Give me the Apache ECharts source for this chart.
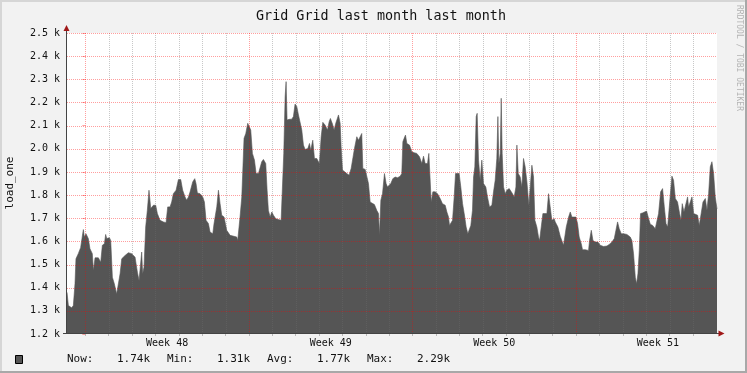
<!DOCTYPE html>
<html><head><meta charset="utf-8">
<script src="https://cdn.jsdelivr.net/npm/echarts@6/dist/echarts.min.js"></script>
<style>html,body{margin:0;padding:0;background:#f2f2f2}#c{width:747px;height:373px}</style>
</head><body><div id="c"></div>
<script>
// time in hours relative to the start of Week 48
const hours = [-18.8,-17.4,-14.0,-12.3,-10.6,-9.6,-7.2,-4.8,-2.7,-2.0,-1.0,0.7,3.1,4.8,7.2,8.3,10.0,13.4,15.8,17.5,19.6,20.9,22.0,24.7,26.1,27.8,29.8,32.2,33.9,35.7,37.4,40.8,44.2,47.6,51.1,53.5,55.2,56.2,57.9,58.9,60.3,62.0,63.7,65.4,67.2,69.9,72.3,74.0,76.7,80.2,82.9,84.6,87.0,88.7,90.4,93.2,95.6,98.0,100.0,102.4,104.1,105.9,107.6,110.3,112.4,113.7,115.1,117.8,120.6,122.3,124.0,126.4,128.1,130.9,132.2,135.0,136.7,138.4,140.1,142.5,145.2,148.7,
155.5,156.5,158.9,160.7,163.0,164.8,166.8,168.5,169.9,171.6,173.7,175.4,177.8,179.5,181.2,182.9,185.3,186.7,188.0,189.8,191.5,193.2,195.6,198.3,201.1,202.4,203.8,205.2,206.2,207.2,209.3,212.0,213.7,215.4,217.2,218.9,220.6,222.3,224.0,225.7,228.5,230.2,231.5,233.6,235.3,237.7,240.4,242.2,243.9,246.3,248.7,250.4,251.7,253.8,255.5,257.2,260.0,261.7,262.7,264.1,266.1,268.5,270.9,273.0,274.7,276.4,278.8,280.5,282.2,283.9,285.0,287.4,289.4,290.8,292.5,294.2,296.9,299.3,301.1,302.1,303.5,305.2,307.2,308.9,310.3,312.0,313.7,315.8,
318.2,320.6,323.3,325.0,326.1,327.4,328.8,330.2,332.9,335.3,337.7,340.4,343.2,345.6,347.3,349.0,351.4,352.8,353.8,355.2,356.9,359.3,361.7,364.4,366.8,369.6,371.3,373.0,374.0,375.4,377.1,378.8,380.2,382.2,383.9,385.6,387.4,389.1,391.1,392.8,394.2,395.9,397.6,398.7,400.0,401.4,402.4,403.8,405.5,407.2,408.9,411.3,413.0,415.1,417.5,419.2,420.9,422.6,423.7,424.7,426.1,427.1,428.1,429.5,431.2,432.9,435.3,437.0,438.7,440.4,442.2,443.2,444.6,446.6,448.3,450.0,451.7,453.5,455.5,456.9,458.6,460.3,461.7,463.7,465.4,466.5,468.2,469.9,471.9,474.0,475.7,477.4,479.1,481.5,
482.6,485.3,487.7,489.4,491.1,492.1,493.9,496.3,498.0,499.7,501.4,503.8,505.5,507.2,509.3,510.6,513.4,516.8,517.8,519.6,521.3,523.7,526.4,528.8,532.2,535.7,538.0,540.8,543.2,544.9,546.6,548.3,550.4,552.8,556.2,559.6,561.3,563.0,564.8,566.1,567.5,568.9,570.2,572.3,574.3,576.4,578.5,580.2,582.6,585.3,587.0,588.7,590.8,592.8,594.6,596.3,598.0,599.7,600.7,602.4,604.1,605.9,608.2,610.3,611.7,613.0,614.8,616.8,618.5,619.5,621.3,623.0,624.7,626.4,628.8,630.5,632.2,634.3,636.7,638.4,640.1,641.8,643.5,645.2,646.9,648.7];
const load = [1380,1323,1313,1323,1417,1525,1547,1573,1633,1651,1619,1633,1612,1568,1547,1474,1529,1529,1510,1583,1590,1630,1612,1616,1604,1445,1417,1373,1370,1460,1525,1539,1551,1547,1532,1467,1431,1431,1554,1460,1489,1662,1734,1821,1742,1756,1756,1720,1691,1684,1681,1749,1749,1770,1806,1821,1867,1867,1821,1792,1778,1792,1814,1857,1871,1850,1809,1806,1792,1770,1691,1677,1640,1633,1677,1749,1821,1763,1713,1705,1648,1626,
1619,1604,1705,1792,2045,2066,2110,2117,2081,1980,1951,1893,1893,1886,1944,1954,1936,1821,1734,1705,1727,1713,1698,1694,1691,1698,1980,2225,2290,2124,2127,2128,2139,2193,2182,2146,2139,2081,2016,1997,2001,2023,1994,2037,1958,1958,1936,2052,2114,2102,2081,2117,2131,2107,2081,2110,2146,2110,2009,1908,1911,1893,1886,1915,1922,2001,2052,2037,2030,2066,1915,1911,1915,1850,1770,1763,1759,1734,1720,1626,1778,1806,1893,1850,1835,1842,1850,1871,
1878,1875,1881,1893,2030,2045,2059,2023,2016,1987,1983,1980,1965,1936,1968,1936,1936,1980,1893,1770,1814,1814,1806,1785,1763,1756,1727,1705,1669,1677,1691,1792,1893,1900,1893,1835,1763,1720,1662,1633,1633,1669,1734,1878,1922,2139,2153,1951,1864,1951,1850,1835,1792,1749,1756,1814,1864,1958,2139,1936,1980,2218,1980,1835,1806,1821,1828,1828,1806,1792,1835,2016,1893,1878,1835,1958,1922,1857,1756,1835,1929,1878,1691,1662,1619,1604,1662,1720,1713,1720,1806,1749,1691,1698,
1684,1662,1622,1619,1583,1578,1662,1705,1727,1705,1713,1705,1677,1619,1590,1564,1564,1561,1604,1648,1604,1597,1597,1583,1578,1580,1587,1597,1612,1648,1684,1655,1633,1633,1630,1619,1604,1547,1445,1417,1460,1561,1720,1723,1727,1731,1698,1674,1669,1655,1655,1720,1814,1828,1749,1677,1662,1662,1799,1882,1864,1785,1770,1720,1691,1763,1727,1763,1792,1749,1742,1792,1720,1723,1713,1669,1677,1770,1785,1734,1806,1922,1944,1893,1792,1740];
const yTicks = [1300,1400,1500,1600,1700,1800,1900,2000,2100,2200,2300,2400,2500];
const weekStarts = [0,168,336,504];
const dayLines = [24,48,72,96,120,144,192,216,240,264,288,312,360,384,408,432,456,480,528,552,576,600,624];
const weekMids = [84,252,420,588];
const weekLabels = ['Week 48','Week 49','Week 50','Week 51'];
const statNames = ['Now:','Min:','Avg:','Max:'];
const statValues = ['1.74k','1.31k','1.77k','2.29k'];

const MONO = 'DejaVu Sans Mono';
const chart = echarts.init(document.getElementById('c'), null, {renderer:'canvas'});
const data = hours.map((h,i)=>[h, load[i]]);

const RED = 'rgba(255,0,0,0.38)';
const GRAY = 'rgba(110,110,110,0.38)';
const X_MIN = -18.8, X_MAX = 648.7;

const graphic = [
  {type:'rect', shape:{x:0,y:0,width:747,height:2}, style:{fill:'#d6d6d6'}, silent:true},
  {type:'rect', shape:{x:0,y:0,width:2,height:373}, style:{fill:'#d6d6d6'}, silent:true},
  {type:'rect', shape:{x:745,y:0,width:2,height:373}, style:{fill:'#a8a8a8'}, silent:true},
  {type:'rect', shape:{x:0,y:371,width:747,height:2}, style:{fill:'#a8a8a8'}, silent:true},
  {type:'line', shape:{x1:66.5,y1:28,x2:66.5,y2:334}, style:{stroke:'#444',lineWidth:1}, z:20, silent:true},
  {type:'line', shape:{x1:63,y1:333.5,x2:720,y2:333.5}, style:{stroke:'#444',lineWidth:1}, z:20, silent:true},
  {type:'polygon', shape:{points:[[63.5,31],[69.5,31],[66.5,25]]}, style:{fill:'#a01818'}, z:21, silent:true},
  {type:'polygon', shape:{points:[[718.5,330.5],[718.5,336.5],[724.5,333.5]]}, style:{fill:'#a01818'}, z:21, silent:true},
  {type:'text', x:10, y:183, rotation:Math.PI/2, style:{text:'load_one', font:'11px "'+MONO+'"', fill:'#111', align:'center', verticalAlign:'middle'}, silent:true},
  {type:'text', x:739, y:5, rotation:-Math.PI/2, style:{text:'RRDTOOL / TOBI OETIKER', font:'8px "'+MONO+'"', fill:'#b4b4b4', align:'left', verticalAlign:'middle'}, silent:true},
  {type:'rect', shape:{x:15.5,y:355.5,width:7,height:8}, style:{fill:'#555', stroke:'#000', lineWidth:1}, silent:true}
];
const statX = [67,167,267,367];
statNames.forEach((n,i)=>{
  graphic.push({type:'text', x:statX[i], y:359.5, style:{text:n, font:'11px "'+MONO+'"', fill:'#111', verticalAlign:'middle'}, silent:true});
  graphic.push({type:'text', x:statX[i]+50, y:359.5, style:{text:statValues[i], font:'11px "'+MONO+'"', fill:'#111', verticalAlign:'middle'}, silent:true});
});

// grid lines drawn on top of the area through the axes' own scales
function hGrid(values, color){
  return {type:'custom', z:10, silent:true, data:values.map(v=>[X_MIN, v]),
    renderItem:(params, api)=>{
      const cs = params.coordSys;
      const y = Math.round(api.coord([X_MIN, api.value(1)])[1]) + 0.5;
      return {type:'line', shape:{x1:cs.x, y1:y, x2:cs.x+cs.width, y2:y},
        style:{stroke:color, lineWidth:1, lineDash:[1,1]}};
    }};
}
function vGrid(values, color){
  return {type:'custom', z:10, silent:true, data:values.map(v=>[v, 2500]),
    renderItem:(params, api)=>{
      const cs = params.coordSys;
      const x = Math.round(api.coord([api.value(0), 2500])[0]) + 0.5;
      return {type:'line', shape:{x1:x, y1:cs.y, x2:x, y2:cs.y+cs.height},
        style:{stroke:color, lineWidth:1, lineDash:[1,1]}};
    }};
}

chart.setOption({
  backgroundColor:'#f2f2f2',
  animation:false,
  title:{text:'Grid Grid last month last month', left:376, top:5, textAlign:'center',
    textStyle:{fontFamily:MONO, fontSize:13.4, fontWeight:'normal', color:'#111'}},
  grid:{left:67, right:30, top:33, bottom:39, show:true, backgroundColor:'#ffffff', borderWidth:0},
  xAxis:{type:'value', min:X_MIN, max:X_MAX,
    axisLine:{show:false},
    axisTick:{show:true, customValues:dayLines.concat(weekStarts), length:2, lineStyle:{color:'rgba(128,128,128,0.5)'}},
    splitLine:{show:false},
    axisLabel:{customValues:weekMids, margin:4, fontFamily:MONO, fontSize:10, color:'#111',
      formatter:v=>weekLabels[weekMids.indexOf(v)]}
  },
  yAxis:{type:'value', min:1200, max:2500, interval:100,
    axisLine:{show:false},
    axisTick:{show:true, length:3, lineStyle:{color:'rgba(255,0,0,0.35)'}},
    splitLine:{show:false},
    axisLabel:{margin:7, fontFamily:MONO, fontSize:10, color:'#111',
      formatter:v=>(v/1000).toFixed(1)+' k'}
  },
  series:[
    {type:'line', data:data, symbol:'none', z:2,
      lineStyle:{color:'#555555', width:0.6},
      areaStyle:{color:'#555555', opacity:1, origin:'start'}},
    vGrid(dayLines, GRAY),
    vGrid(weekStarts, RED),
    hGrid(yTicks, RED)
  ],
  graphic:graphic
});
</script></body></html>
